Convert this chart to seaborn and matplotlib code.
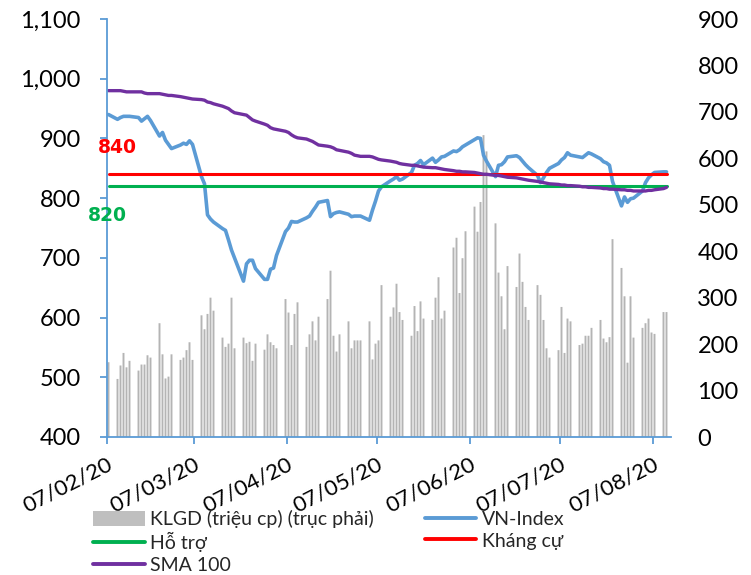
import matplotlib
matplotlib.use("Agg")
import matplotlib.pyplot as plt
import matplotlib.transforms as mtransforms
from matplotlib.patches import Patch
from matplotlib.lines import Line2D
import numpy as np
import pandas as pd
import seaborn as sns

sns.set_theme(style="white")
plt.rcParams["font.family"] = ["Lato", "DejaVu Sans"]

# ---------------- data ----------------
trading_days = pd.bdate_range("2020-02-07", "2020-08-11")

volume = [
    161,
    125, 154, 181, 150, 164,
    143, 156, 156, 176, 171,
    245, 178, 126, 130, 178,
    166, 171, 187, 204, 166,
    262, 232, 265, 300, 272,
    214, 194, 201, 300, 191,
    214, 202, 205, 164, 201,
    188, 221, 204, 198, 191,
    297, 268, 198, 265, 290,
    194, 221, 249, 208, 259,
    297, 358, 218, 184, 221,
    249, 191, 208, 208, 208,
    249, 167, 201, 208, 327,
    259, 279, 330, 269, 252,
    218, 282, 228, 292, 255,
    252, 300, 344, 255, 272,
    408, 429, 310, 385, 443,
    496, 442, 506, 650, 615,
    460, 354, 303, 232, 368,
    323, 395, 334, 280, 252,
    327, 306, 252, 191, 171,
    187, 280, 181, 255, 249,
    198, 201, 218, 218, 235,
    252, 212, 204, 215, 426,
    364, 303, 160, 303, 214,
    235, 245, 255, 225, 222,
    269, 269,
]

vn_index = [
    940,
    932, 935, 937, 937, 937,
    935, 929, 933, 937, 930,
    904, 910, 897, 890, 883,
    889, 892, 890, 896, 890,
    836, 824, 772, 765, 760,
    749, 746, 730, 713, 700,
    661, 690, 696, 696, 682,
    664, 664, 681, 683, 704,
    744, 750, 761, 760, 760,
    767, 770, 778, 785, 793,
    796, 769, 774, 776, 777,
    773, 769, 770, 770, 770,
    763, 780, 795, 812, 819,
    829, 832, 836, 830, 832,
    843, 855, 858, 863, 856,
    867, 860, 864, 869, 870,
    879, 878, 881, 886, 889,
    898, 901, 900, 872, 862,
    836, 855, 856, 861, 869,
    871, 868, 862, 856, 851,
    838, 826, 834, 843, 850,
    858, 864, 868, 876, 872,
    869, 868, 872, 876, 874,
    866, 861, 859, 855, 828,
    787, 802, 793, 799, 800,
    812, 826, 834, 839, 843,
    844, 844,
]

sma100 = [
    980,
    980, 980, 979, 978, 978,
    978, 978, 976, 975, 975,
    975, 974, 973, 972, 972,
    970, 969, 968, 967, 966,
    965, 964, 961, 960, 958,
    954, 952, 950, 946, 943,
    940, 939, 935, 931, 929,
    924, 922, 918, 916, 915,
    912, 910, 906, 903, 901,
    899, 897, 895, 892, 889,
    887, 886, 884, 881, 880,
    877, 875, 872, 871, 870,
    870, 869, 867, 865, 864,
    862, 861, 860, 858, 857,
    855, 855, 854, 853, 852,
    851, 851, 850, 849, 848,
    846, 845, 845, 844, 844,
    843, 842, 841, 840, 840,
    838, 838, 837, 836, 835,
    834, 833, 832, 831, 830,
    828, 827, 826, 825, 824,
    823, 822, 822, 821, 821,
    820, 819, 819, 818, 818,
    817, 816, 816, 815, 815,
    814, 814, 813, 813, 812,
    812, 812, 813, 813, 814,
    816, 818,
]

support_level = 820
resistance_level = 840

left_ticks = [400, 500, 600, 700, 800, 900, 1000, 1100]
left_tick_labels = ["400", "500", "600", "700", "800", "900", "1,000", "1,100"]
right_ticks = [0, 100, 200, 300, 400, 500, 600, 700, 800, 900]
x_tick_dates = pd.to_datetime(["2020-02-07", "2020-03-07", "2020-04-07", "2020-05-07",
                               "2020-06-07", "2020-07-07", "2020-08-07"])

label_vol = "KLGD (triệu cp) (trục phải)"
label_vn = "VN-Index"
label_sup = "Hỗ trợ"
label_res = "Kháng cự"
label_sma = "SMA 100"

# ---------------- colours ----------------
c_bar = "#B4B4B4"
c_vn = "#5B9BD5"
c_sup = "#00B050"
c_res = "#FF0000"
c_sma = "#7030A0"
c_axis = "#5B9BD5"

# ---------------- figure ----------------
W, H = 751, 575
fig = plt.figure(figsize=(W / 100, H / 100), dpi=100)
ax = fig.add_axes([107 / W, 1 - 437 / H, (671 - 107) / W, (437 - 19) / H])
ax2 = ax.twinx()

x = trading_days + pd.Timedelta(hours=12)
df = pd.DataFrame({
    "date": x,
    "vol": volume,
    "vn": vn_index,
    "sma": sma100,
    "sup": [support_level] * len(x),
    "res": [resistance_level] * len(x),
})

bars = ax2.bar(df["date"], df["vol"], width=0.64, color=c_bar, linewidth=0)
for b in bars:
    b.set_snap(False)
ax.set_zorder(ax2.get_zorder() + 1)
ax.patch.set_visible(False)

sns.lineplot(data=df, x="date", y="vn", ax=ax, color=c_vn, linewidth=2.6)
sns.lineplot(data=df, x="date", y="sup", ax=ax, color=c_sup, linewidth=2.2)
sns.lineplot(data=df, x="date", y="res", ax=ax, color=c_res, linewidth=2.2)
sns.lineplot(data=df, x="date", y="sma", ax=ax, color=c_sma, linewidth=2.4)

ax.set_xlim(pd.Timestamp("2020-02-07"), pd.Timestamp("2020-08-13"))
ax.set_ylim(400, 1100)
ax2.set_ylim(0, 900)
ax.set_xlabel("")
ax.set_ylabel("")
ax2.set_ylabel("")

ax.set_yticks(left_ticks)
ax.set_yticklabels(left_tick_labels)
ax2.set_yticks(right_ticks)
ax2.set_yticklabels([str(v) for v in right_ticks])
ax.set_xticks(x_tick_dates)
ax.set_xticklabels([d.strftime("%d/%m/%y") for d in x_tick_dates])

for s in ["top", "right"]:
    ax.spines[s].set_visible(False)
for s in ["left", "bottom"]:
    ax.spines[s].set_color(c_axis)
    ax.spines[s].set_linewidth(1.3)
for s in ax2.spines.values():
    s.set_visible(False)

ax.tick_params(axis="y", direction="out", length=5, width=1.3, color=c_axis,
               labelsize=17, pad=14, left=True, labelcolor="black")
ax.tick_params(axis="x", direction="out", length=5, width=1.3, color=c_axis,
               labelsize=16, pad=7, bottom=True, labelcolor="black")
ax2.tick_params(axis="y", length=0, labelsize=17, pad=19, labelcolor="black")

for lab in ax.get_xticklabels():
    lab.set_rotation(27)
    lab.set_ha("right")
    lab.set_rotation_mode("anchor")

ax.grid(False)
ax2.grid(False)

# level labels
trans = mtransforms.blended_transform_factory(ax.transAxes, ax.transData)
ax.text(0.0186, 884, str(resistance_level), transform=trans, ha="center", va="center",
        color=c_res, fontsize=13.5, fontweight="bold", family="DejaVu Sans")
ax.text(0.0009, 771, str(support_level), transform=trans, ha="center", va="center",
        color=c_sup, fontsize=13.5, fontweight="bold", family="DejaVu Sans", zorder=5)

# legend
handles = [
    Patch(facecolor="#BFBFBF", edgecolor="none", label=label_vol),
    Line2D([], [], color=c_sup, lw=2.8, label=label_sup),
    Line2D([], [], color=c_sma, lw=2.8, label=label_sma),
    Line2D([], [], color=c_vn, lw=2.8, label=label_vn),
    Line2D([], [], color=c_res, lw=2.8, label=label_res),
]
fig.legend(handles=handles, loc="upper left", bbox_to_anchor=(93 / W, 1 - 510 / H),
           ncol=2, frameon=False, fontsize=14, handlelength=2.65, handleheight=0.8,
           handletextpad=0.3, columnspacing=2.6, labelspacing=0.22,
           borderpad=0, borderaxespad=0)

fig.savefig("out.png", dpi=100)
